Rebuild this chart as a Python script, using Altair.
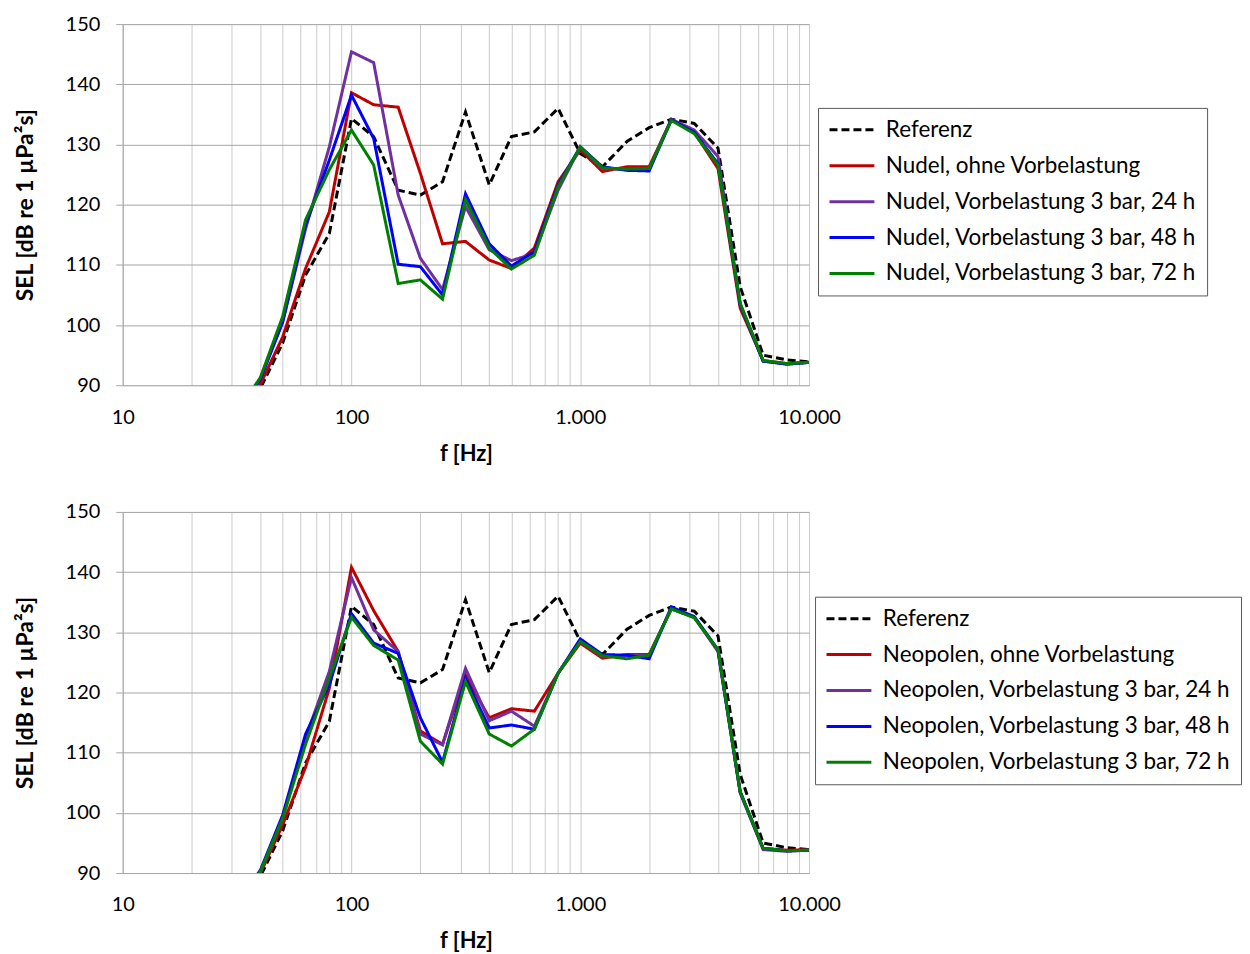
import altair as alt
import pandas as pd

freqs = [31.5, 40, 50, 63, 80, 100, 125, 160, 200, 250, 315, 400, 500, 630, 800,
         1000, 1250, 1600, 2000, 2500, 3150, 4000, 5000, 6300, 8000, 10000]

referenz = [83, 89.5, 97, 108.3, 115.2, 134.3, 131.3, 122.4, 121.6, 123.8, 135.4, 123.3, 131.3,
            132.1, 136.0, 128.5, 126.3, 130.5, 132.8, 134.2, 133.5, 129.4, 106.4, 95.0, 94.2, 93.9]

# top panel: Nudel
nudel_ohne = [84, 90.2, 98, 109.4, 118.8, 138.6, 136.6, 136.2, 125.2, 113.5, 113.9, 110.8, 109.4,
              112.8, 123.8, 129.1, 125.5, 126.3, 126.3, 134.1, 132.0, 126.0, 102.8, 94.1, 93.6, 93.8]
nudel_24 = [85, 91.2, 100.5, 116.0, 129.6, 145.4, 143.6, 121.6, 111.1, 105.9, 119.7, 112.5, 110.7,
            111.9, 122.4, 129.6, 126.0, 125.9, 126.0, 134.2, 132.4, 128.0, 103.5, 94.0, 93.5, 93.8]
nudel_48 = [85, 91.0, 100.5, 116.6, 127.4, 138.2, 131.0, 110.1, 109.7, 105.0, 121.8, 113.5, 109.8,
            112.2, 123.3, 129.6, 126.3, 125.7, 125.6, 134.1, 132.0, 126.8, 103.4, 94.0, 93.5, 93.8]
nudel_72 = [85.5, 91.3, 101.4, 117.5, 125.8, 132.4, 126.6, 106.9, 107.5, 104.3, 120.8, 112.8, 109.3,
            111.6, 123.0, 129.6, 126.1, 125.9, 126.0, 134.0, 131.8, 126.6, 103.6, 94.1, 93.6, 93.8]

# bottom panel: Neopolen
neo_ohne = [84, 90.0, 98, 107.6, 120.7, 140.8, 133.6, 126.8, 113.6, 111.4, 122.9, 115.8, 117.3,
            116.9, 123.2, 128.2, 125.7, 126.3, 126.3, 133.9, 132.5, 127.0, 103.5, 94.1, 93.8, 93.9]
neo_24 = [84.5, 90.2, 99, 112.5, 123.5, 139.1, 130.4, 126.8, 113.1, 111.3, 124.0, 115.3, 116.9,
          114.4, 123.2, 128.5, 126.0, 126.2, 126.2, 133.9, 132.5, 126.8, 103.3, 93.9, 93.6, 93.8]
neo_48 = [85, 90.5, 99.6, 113.1, 121.3, 133.1, 128.2, 126.5, 115.8, 108.4, 122.4, 114.1, 114.6,
          113.9, 123.2, 128.9, 126.3, 126.2, 125.6, 134.2, 132.6, 127.1, 103.5, 94.1, 93.7, 93.8]
neo_72 = [85, 90.3, 99.1, 111.4, 122.4, 132.5, 127.8, 125.4, 111.9, 108.1, 121.8, 113.1, 111.1,
          113.9, 123.2, 128.5, 126.1, 125.6, 126.2, 133.9, 132.4, 127.1, 103.5, 94.1, 93.7, 93.8]

top_names = ["Referenz", "Nudel, ohne Vorbelastung", "Nudel, Vorbelastung 3 bar, 24 h",
             "Nudel, Vorbelastung 3 bar, 48 h", "Nudel, Vorbelastung 3 bar, 72 h"]
bot_names = ["Referenz", "Neopolen, ohne Vorbelastung", "Neopolen, Vorbelastung 3 bar, 24 h",
             "Neopolen, Vorbelastung 3 bar, 48 h", "Neopolen, Vorbelastung 3 bar, 72 h"]
colors = ["#000000", "#C00000", "#7030A0", "#0000FF", "#008000"]
dashes = [[8, 4], [1, 0], [1, 0], [1, 0], [1, 0]]

x_grid_vals = [m * 10 ** k for k in range(1, 4) for m in range(1, 10)] + [10000]
y_vals = [90, 100, 110, 120, 130, 140, 150]

FONT = "Lato"


def make_df(names, series):
    rows = []
    for i, (n, vals) in enumerate(zip(names, series)):
        for f, v in zip(freqs, vals):
            rows.append({"f": f, "sel": v, "series": n, "k": i})
    return pd.DataFrame(rows)


def panel(names, series, lx, ly):
    df = make_df(names, series)
    leg = alt.Legend(
        title=None, orient="none", legendX=lx, legendY=ly,
        symbolType="stroke", symbolSize=2025, symbolStrokeWidth=3,
        labelFont=FONT, labelFontSize=22.5, labelColor="#000000", labelLimit=0,
        labelOffset=10, clipHeight=24, rowPadding=12, padding=10,
        strokeColor="#595959", fillColor="#ffffff",
    )
    return alt.Chart(df).mark_line(strokeWidth=3, clip=True).encode(
        x=alt.X("f:Q",
                scale=alt.Scale(type="log", domain=[10, 10000]),
                axis=alt.Axis(values=x_grid_vals, grid=True, gridColor="#cccccc",
                              ticks=False, domain=False, labelOverlap=False, labelFlush=False,
                              labelExpr="datum.value == 10 ? '10' : datum.value == 100 ? '100' : datum.value == 1000 ? '1.000' : datum.value == 10000 ? '10.000' : ''",
                              labelFont=FONT, labelFontSize=20, labelColor="#000000", labelPadding=22,
                              title="f [Hz]", titleFont=FONT, titleFontSize=22, titleFontWeight="bold",
                              titleColor="#000000", titlePadding=16)),
        y=alt.Y("sel:Q",
                scale=alt.Scale(domain=[90, 150], nice=False, zero=False),
                axis=alt.Axis(values=y_vals, grid=True, gridColor="#a6a6a6",
                              ticks=True, tickSize=7, tickColor="#a6a6a6",
                              domain=True, domainColor="#a6a6a6",
                              labelFont=FONT, labelFontSize=20, labelColor="#000000", labelPadding=16,
                              title="SEL [dB re 1 µPa²s]", titleFont=FONT, titleFontSize=23,
                              titleFontWeight="bold", titleColor="#000000", titlePadding=28)),
        color=alt.Color("series:N", scale=alt.Scale(domain=names, range=colors), legend=leg),
        strokeDash=alt.StrokeDash("series:N", scale=alt.Scale(domain=names, range=dashes), legend=leg),
        order=alt.Order("k:Q"),
    ).properties(width=688, height=362)


top = panel(top_names, [referenz, nudel_ohne, nudel_24, nudel_48, nudel_72], 697, 84)
bot = panel(bot_names, [referenz, neo_ohne, neo_24, neo_48, neo_72], 694, 85)

chart = alt.vconcat(top, bot, spacing=36).resolve_scale(
    color="independent", strokeDash="independent"
).resolve_legend(color="independent", strokeDash="independent").properties(
    padding={"left": 5, "top": 4, "right": 0, "bottom": 0}
).configure_view(strokeWidth=0).configure(background="#ffffff")

chart.save("out.html", embed_options={"renderer": "svg", "actions": False})
